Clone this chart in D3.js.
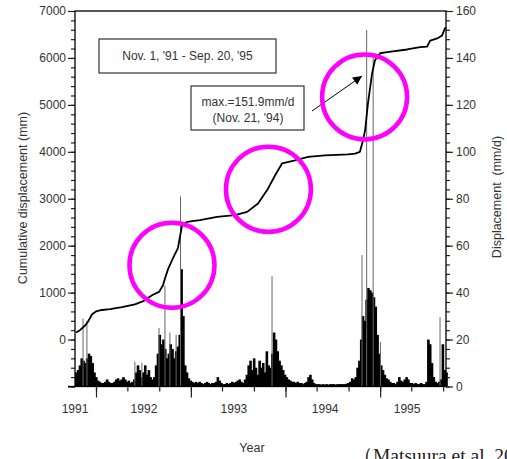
<!DOCTYPE html>
<html>
<head>
<meta charset="utf-8">
<script src="https://cdn.jsdelivr.net/npm/d3@7"></script>
<style>
  body { margin: 0; background: #fff; overflow: hidden; }
  text { font-family: "Liberation Sans", Arial, sans-serif; fill: #333; }
</style>
</head>
<body>
<div id="chart"></div>
<script>
'use strict';

var parse = d3.timeParse('%Y-%m-%d');

// Cumulative displacement (mm)
var cumDates = ['1991-10-16','1991-10-31','1991-11-20','1991-12-01','1991-12-17','1992-01-01',
  '1992-01-24','1992-02-24','1992-04-10','1992-05-30','1992-07-04','1992-08-04','1992-08-31',
  '1992-09-15','1992-09-23','1992-10-05','1992-10-24','1992-11-12','1992-11-28','1992-12-17',
  '1993-02-05','1993-04-12','1993-06-20','1993-08-06','1993-09-17','1993-10-26','1993-11-22',
  '1993-12-19','1994-02-07','1994-03-29','1994-06-02','1994-08-30','1994-09-26','1994-10-15',
  '1994-10-27','1994-11-04','1994-11-15','1994-12-01','1994-12-12','1995-01-01','1995-01-28',
  '1995-04-15','1995-06-04','1995-07-01','1995-07-13','1995-08-09','1995-08-28','1995-09-08',
  '1995-09-12'];
var cumValues = [150, 200, 300, 380, 540, 600,
  630, 650, 690, 750, 825, 945, 1015,
  1150, 1300, 1500, 1735, 1950, 2435, 2505,
  2545, 2615, 2650, 2720, 2900, 3220, 3500,
  3755, 3820, 3890, 3925, 3945, 3960, 4000,
  4245, 4460, 5030, 5670, 5950, 6100, 6125,
  6180, 6230, 6240, 6370, 6415, 6480, 6630,
  6650];

// Displacement rate (mm/d), one value per week from rateStart
var rateStart = '1991-10-12';
var rateValues = [
  6, 7, 9, 12, 11, 10, 12, 14, 13, 10, 6, 4, 2.5, 2, 1.5, 1.5, 2, 3, 2, 1.5,
  1.5, 2, 3, 3.5, 2.5, 3, 4, 3, 2, 2.5, 1.5, 2, 3, 6, 9, 7, 4, 6, 9, 5,
  7, 4, 3, 4, 9, 14, 22, 18, 20, 16, 12, 14, 18, 16, 12, 15, 17, 22, 50, 30,
  9, 6, 3.5, 2.5, 2, 1.5, 2, 1.5, 2, 1.5, 1, 1.5, 2, 1.5, 1, 1.5, 1.5, 2, 4, 2.5,
  1.5, 1, 1, 1.5, 1, 1.5, 2, 1.5, 2, 2.5, 3, 2, 1.5, 3, 5, 9, 11, 7, 12, 8,
  5, 11, 8, 10, 6, 15, 9, 8, 14, 23, 20, 15, 11, 9, 7, 5, 4, 3, 2.5, 2,
  2, 1.5, 2, 1.5, 1.5, 1, 1.5, 2, 4, 5, 3, 1.5, 1, 1, 1, 0.8, 1, 0.8, 1, 0.8,
  1, 1, 1, 0.8, 1, 1, 1, 1, 1, 1.2, 1.5, 2, 3.5, 3, 4, 8, 11, 20, 30, 28,
  37, 42, 41, 40, 38, 34, 22, 14, 9, 7, 5, 3.5, 3, 2, 1.5, 1.5, 1, 2, 4, 2.5,
  2, 3, 4, 3, 1.5, 1.5, 1, 1.5, 1, 1, 1.5, 1, 1, 2, 20, 18, 10, 4, 2, 1.5,
  2, 3, 18, 7, 6];

// Single-day peaks (mm/d)
var peakDates = ['1991-11-12','1991-11-27','1992-05-30','1992-06-26','1992-08-31','1992-09-23',
  '1992-10-12','1992-11-05','1992-11-22','1993-11-10','1994-10-23','1994-11-10','1994-12-05',
  '1995-01-02','1995-08-20'];
var peakValues = [29, 28, 10.5, 10, 25, 43, 23, 22, 81, 47, 56, 151.9, 141, 19, 29.6];

var yearLabels = ['1991', '1992', '1993', '1994', '1995'];
var yearLabelDates = ['1991-10-12', '1992-07-04', '1993-06-16', '1994-06-03', '1995-04-15'];

var leftTicks = d3.range(-1000, 7001, 1000);
var rightTicks = d3.range(0, 161, 20);

// highlighted periods: [date, cumulative mm]
var circleDates = ['1992-10-20', '1993-10-27', '1994-11-02'];
var circleValues = [1585, 3202, 5170];

(function() {
  var width = 507, height = 459;
  var margin = { left: 75, right: 446, top: 11, bottom: 386.5 };

  var svg = d3.select('#chart').append('svg')
    .attr('width', width)
    .attr('height', height);

  var x = d3.scaleTime()
    .domain([parse('1991-10-12'), parse('1995-09-12')])
    .range([margin.left, margin.right]);
  var yL = d3.scaleLinear().domain([-1000, 7000]).range([margin.bottom, margin.top]);
  var yR = d3.scaleLinear().domain([0, 160]).range([margin.bottom, margin.top]);

  // bars
  var rate = rateValues.map(function(v, i) {
    return { date: d3.timeDay.offset(parse(rateStart), i * 7), value: v };
  });
  svg.append('g').selectAll('rect')
    .data(rate)
    .enter().append('rect')
    .attr('x', function(d) { return x(d.date); })
    .attr('width', function(d) { return x(d3.timeDay.offset(d.date, 7)) - x(d.date) + 0.8; })
    .attr('y', function(d) { return yR(d.value); })
    .attr('height', function(d) { return yR(0) - yR(d.value); })
    .attr('fill', '#000');

  svg.append('g').selectAll('line')
    .data(peakDates)
    .enter().append('line')
    .attr('x1', function(d) { return x(parse(d)); })
    .attr('x2', function(d) { return x(parse(d)); })
    .attr('y1', yR(0))
    .attr('y2', function(d, i) { return yR(peakValues[i]); })
    .attr('stroke', '#666')
    .attr('stroke-width', 1);

  // cumulative line
  var line = d3.line()
    .x(function(d, i) { return x(parse(cumDates[i])); })
    .y(function(d) { return yL(d); });

  svg.append('path')
    .datum(cumValues)
    .attr('d', line)
    .attr('fill', 'none')
    .attr('stroke', '#000')
    .attr('stroke-width', 1.8)
    .attr('stroke-linejoin', 'round');

  // axes
  function styleAxis(g) {
    g.select('.domain').remove();
    g.selectAll('.tick line').attr('stroke', '#222').attr('stroke-width', 1.2);
    g.selectAll('.tick text').attr('font-size', 12).attr('fill', '#333')
      .style('font-family', '"Liberation Sans", Arial, sans-serif');
  }

  svg.append('g')
    .attr('transform', 'translate(' + margin.left + ',0)')
    .call(d3.axisLeft(yL).tickValues(d3.range(-1000, 7000, 200)).tickSize(4).tickFormat(''))
    .call(styleAxis);
  svg.append('g')
    .attr('transform', 'translate(' + margin.left + ',0)')
    .call(d3.axisLeft(yL).tickValues(leftTicks).tickSize(7).tickPadding(2)
      .tickFormat(function(d) { return d < 0 ? '' : d; }))
    .call(styleAxis);

  svg.append('g')
    .attr('transform', 'translate(' + margin.right + ',0)')
    .call(d3.axisRight(yR).tickValues(d3.range(0, 160, 4)).tickSize(4).tickFormat(''))
    .call(styleAxis);
  svg.append('g')
    .attr('transform', 'translate(' + margin.right + ',0)')
    .call(d3.axisRight(yR).tickValues(rightTicks).tickSize(7).tickPadding(3))
    .call(styleAxis);

  svg.append('g')
    .attr('transform', 'translate(0,' + margin.bottom + ')')
    .call(d3.axisBottom(x).ticks(d3.timeMonth.every(4)).tickSize(5).tickFormat(''))
    .call(styleAxis);
  svg.append('g')
    .attr('transform', 'translate(0,' + margin.bottom + ')')
    .call(d3.axisBottom(x).ticks(d3.timeYear.every(1)).tickSize(11).tickFormat(''))
    .call(styleAxis);

  svg.append('g').selectAll('text')
    .data(yearLabels)
    .enter().append('text')
    .attr('x', function(d, i) { return x(parse(yearLabelDates[i])); })
    .attr('y', 413)
    .attr('text-anchor', 'middle')
    .attr('font-size', 12)
    .text(function(d) { return d; });

  // frame
  svg.append('rect')
    .attr('x', margin.left).attr('y', margin.top)
    .attr('width', margin.right - margin.left).attr('height', margin.bottom - margin.top)
    .attr('fill', 'none')
    .attr('stroke', '#000')
    .attr('stroke-width', 1.3);
  svg.append('line')
    .attr('x1', margin.left - 7).attr('x2', margin.left)
    .attr('y1', margin.bottom).attr('y2', margin.bottom)
    .attr('stroke', '#000').attr('stroke-width', 1.3);

  // axis titles
  svg.append('text')
    .attr('transform', 'translate(27,198) rotate(-90)')
    .attr('text-anchor', 'middle')
    .attr('font-size', 12.5)
    .text('Cumulative displacement (mm)');
  svg.append('text')
    .attr('transform', 'translate(501,197) rotate(-90)')
    .attr('text-anchor', 'middle')
    .attr('font-size', 12.5)
    .style('white-space', 'pre')
    .text('Displacement  (mm/d)');
  svg.append('text')
    .attr('x', 252).attr('y', 452)
    .attr('text-anchor', 'middle')
    .attr('font-size', 12.5)
    .text('Year');

  // annotations
  svg.append('rect')
    .attr('x', 99).attr('y', 39).attr('width', 177).attr('height', 34)
    .attr('fill', '#fff').attr('stroke', '#333').attr('stroke-width', 1.2);
  svg.append('text')
    .attr('x', 187.5).attr('y', 60)
    .attr('text-anchor', 'middle')
    .attr('font-size', 12)
    .text("Nov. 1, '91 - Sep. 20, '95");

  svg.append('rect')
    .attr('x', 191).attr('y', 86).attr('width', 113).attr('height', 44)
    .attr('fill', '#fff').attr('stroke', '#333').attr('stroke-width', 1.2);
  svg.append('text')
    .attr('x', 248).attr('y', 106)
    .attr('text-anchor', 'middle')
    .attr('font-size', 12)
    .text('max.=151.9mm/d');
  svg.append('text')
    .attr('x', 248).attr('y', 122)
    .attr('text-anchor', 'middle')
    .attr('font-size', 12)
    .text("(Nov. 21, '94)");

  svg.append('defs').append('marker')
    .attr('id', 'head')
    .attr('viewBox', '0 0 10 10')
    .attr('refX', 10).attr('refY', 5)
    .attr('markerWidth', 11).attr('markerHeight', 9)
    .attr('markerUnits', 'userSpaceOnUse')
    .attr('orient', 'auto')
    .append('path')
    .attr('d', 'M0,0L10,5L0,10Z')
    .attr('fill', '#000');
  svg.append('line')
    .attr('x1', 312).attr('y1', 111)
    .attr('x2', 362).attr('y2', 76)
    .attr('stroke', '#000').attr('stroke-width', 1)
    .attr('marker-end', 'url(#head)');

  // highlight circles
  svg.append('g').selectAll('circle')
    .data(circleDates)
    .enter().append('circle')
    .attr('cx', function(d) { return x(parse(d)); })
    .attr('cy', function(d, i) { return yL(circleValues[i]); })
    .attr('r', 42.5)
    .attr('fill', 'none')
    .attr('stroke', '#ff00ff')
    .attr('stroke-width', 4.5);

  // source (runs past the page edge, as in the original figure)
  svg.append('text')
    .attr('x', 353).attr('y', 462)
    .attr('font-size', 19.5)
    .style('font-family', '"Liberation Serif", "Times New Roman", serif')
    .style('fill', '#222')
    .text('（Matsuura et al. 2008）');
})();
</script>
</body>
</html>
